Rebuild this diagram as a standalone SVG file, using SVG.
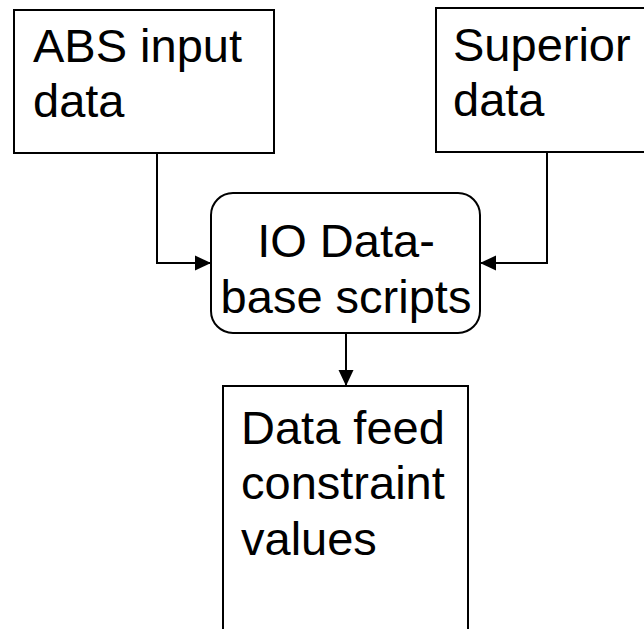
<svg xmlns="http://www.w3.org/2000/svg" width="644" height="629" viewBox="0 0 644 629">
<defs>
<marker id="arr" viewBox="0 0 16 16" refX="16" refY="8" markerWidth="16" markerHeight="16" markerUnits="userSpaceOnUse" orient="auto">
<path d="M0,0.5 L16,8 L0,15.5 z" fill="#000"/>
</marker>
<style>
.box{fill:#fff;stroke:#000;stroke-width:2}
.t{font-family:"Liberation Sans",Arial,sans-serif;font-size:47px;fill:#000}
.c{fill:none;stroke:#000;stroke-width:2}
</style>
</defs>
<rect width="644" height="629" fill="#fff"/>
<g id="abs">
<rect class="box" x="14" y="10" width="260" height="143"/>
<text class="t" x="33" y="62">ABS input</text>
<text class="t" x="33" y="117">data</text>
</g>
<g id="superior">
<rect class="box" x="436" y="8" width="220" height="144"/>
<text class="t" x="453" y="61">Superior</text>
<text class="t" x="453" y="116">data</text>
</g>
<g id="io">
<rect class="box" x="211" y="193" width="269" height="140" rx="22" ry="22"/>
<text class="t" x="346" y="257" text-anchor="middle">IO Data-</text>
<text class="t" x="346" y="313" text-anchor="middle">base scripts</text>
</g>
<g id="feed">
<rect class="box" x="223" y="386" width="245" height="260"/>
<text class="t" x="241" y="444">Data feed</text>
<text class="t" x="241" y="499">constraint</text>
<text class="t" x="241" y="555">values</text>
</g>
<g id="connectors">
<path class="c" d="M157,153 V263 H211" marker-end="url(#arr)"/>
<path class="c" d="M547,152 V263 H480" marker-end="url(#arr)"/>
<path class="c" d="M346,333 V386" marker-end="url(#arr)"/>
</g>
</svg>
